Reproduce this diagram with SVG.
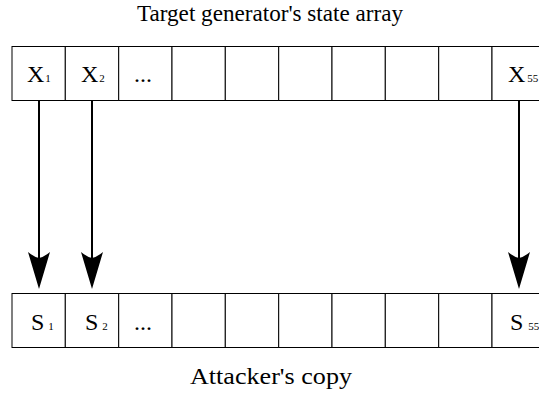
<svg xmlns="http://www.w3.org/2000/svg" width="539" height="396" viewBox="0 0 539 396">
<style>
.cell{fill:#fff;stroke:#000;stroke-width:1}
text{font-family:'Liberation Serif','DejaVu Serif','Times New Roman',serif;fill:#000}
.lab{font-size:24px}
.sub{font-size:11px}
.ttl{font-size:23.5px}
.ar{stroke:#000;stroke-width:2;fill:none}
.hd{fill:#000;stroke:none}
</style>
<defs>
<path id="head" d="M0,0 L-11,-37 Q-5,-32 0,-31 Q5,-32 11,-37 Z"/>
</defs>
<text class="ttl" x="270" y="21" text-anchor="middle" textLength="266" lengthAdjust="spacingAndGlyphs">Target generator's state array</text>
<g id="top-array">
<rect class="cell" x="12" y="46.5" width="53.3" height="54"/>
<rect class="cell" x="65.3" y="46.5" width="53.4" height="54"/>
<rect class="cell" x="118.7" y="46.5" width="53.3" height="54"/>
<rect class="cell" x="172" y="46.5" width="53.3" height="54"/>
<rect class="cell" x="225.3" y="46.5" width="53.4" height="54"/>
<rect class="cell" x="278.7" y="46.5" width="53.3" height="54"/>
<rect class="cell" x="332" y="46.5" width="53.3" height="54"/>
<rect class="cell" x="385.3" y="46.5" width="53.4" height="54"/>
<rect class="cell" x="438.7" y="46.5" width="53.3" height="54"/>
<rect class="cell" x="492" y="46.5" width="53.3" height="54"/>
<text class="lab" x="27" y="82">X<tspan class="sub" dx="1">1</tspan></text>
<text class="lab" x="81" y="82">X<tspan class="sub" dx="1">2</tspan></text>
<text class="lab" x="134" y="82">...</text>
<text class="lab" x="508" y="82">X<tspan class="sub" dx="2">55</tspan></text>
</g>
<g id="bottom-array">
<rect class="cell" x="12" y="293.5" width="53.3" height="54"/>
<rect class="cell" x="65.3" y="293.5" width="53.4" height="54"/>
<rect class="cell" x="118.7" y="293.5" width="53.3" height="54"/>
<rect class="cell" x="172" y="293.5" width="53.3" height="54"/>
<rect class="cell" x="225.3" y="293.5" width="53.4" height="54"/>
<rect class="cell" x="278.7" y="293.5" width="53.3" height="54"/>
<rect class="cell" x="332" y="293.5" width="53.3" height="54"/>
<rect class="cell" x="385.3" y="293.5" width="53.4" height="54"/>
<rect class="cell" x="438.7" y="293.5" width="53.3" height="54"/>
<rect class="cell" x="492" y="293.5" width="53.3" height="54"/>
<text class="lab" x="31" y="330">S<tspan class="sub" dx="4">1</tspan></text>
<text class="lab" x="85" y="330">S<tspan class="sub" dx="4">2</tspan></text>
<text class="lab" x="134" y="330">...</text>
<text class="lab" x="510" y="330">S<tspan class="sub" dx="5">55</tspan></text>
</g>
<g id="connectors">
<line class="ar" x1="39" y1="100.5" x2="39" y2="262"/>
<use href="#head" class="hd" x="39" y="289"/>
<line class="ar" x1="92" y1="100.5" x2="92" y2="262"/>
<use href="#head" class="hd" x="92" y="289"/>
<line class="ar" x1="519" y1="100.5" x2="519" y2="262"/>
<use href="#head" class="hd" x="519" y="289"/>
</g>
<text class="ttl" x="271" y="384" text-anchor="middle" textLength="162" lengthAdjust="spacingAndGlyphs">Attacker's copy</text>
</svg>
